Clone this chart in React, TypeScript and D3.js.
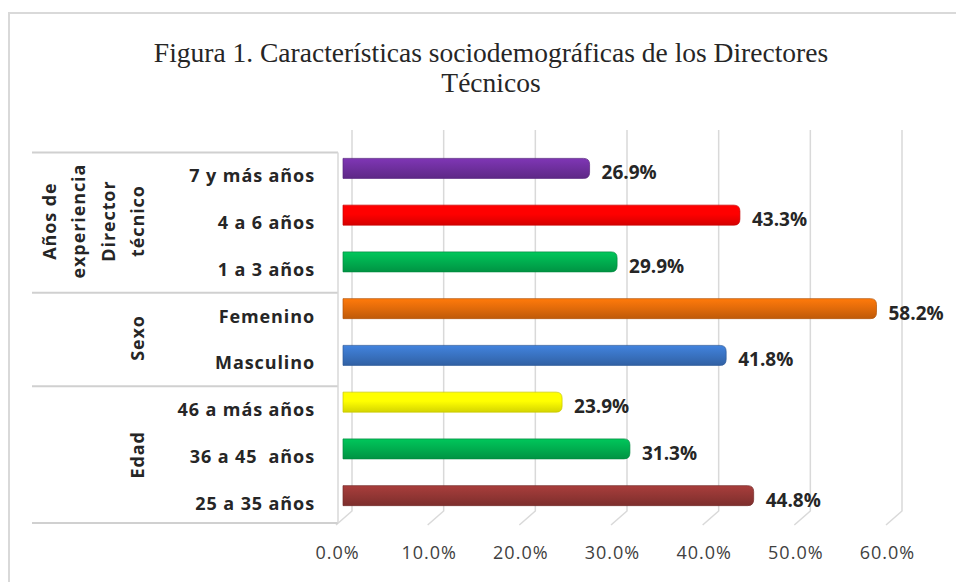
import React from "react";
import * as d3 from "d3";

const categories = [
  "7 y más años",
  "4 a 6 años",
  "1 a 3 años",
  "Femenino",
  "Masculino",
  "46 a más años",
  "36 a 45  años",
  "25 a 35 años",
];
const values = [26.9, 43.3, 29.9, 58.2, 41.8, 23.9, 31.3, 44.8];
const barColors = [
  "#7030A0",
  "#FF0000",
  "#00B050",
  "#E46C0A",
  "#3A74C4",
  "#FFFF00",
  "#00B050",
  "#953735",
];
const groups = [
  { lines: ["Años de", "experiencia", "Director", "técnico"], from: 0, to: 2 },
  { lines: ["Sexo"], from: 3, to: 4 },
  { lines: ["Edad"], from: 5, to: 7 },
];
const ticks = [0, 10, 20, 30, 40, 50, 60];
const titleLines = [
  "Figura 1. Características sociodemográficas de los Directores",
  "Técnicos",
];

const W = 956;
const H = 582;
const FONT = "'Open Sans', 'Liberation Sans', sans-serif";

export default function App() {
  const x = d3.scaleLinear().domain([0, 60]).range([343, 893]);
  const y = d3.scalePoint<string>().domain(categories).range([145, 519]).padding(0.5);
  const step = y.step();
  const barH = 20;
  const gridTop = 130;
  const gridBottom = 511;
  const depthOff = 7.5;

  const fmt = (v: number) => v.toFixed(1) + "%";

  const boundaries: number[] = [];
  groups.forEach((g, i) => {
    if (i === 0) boundaries.push((y(categories[g.from]) as number) - step / 2 + depthOff);
    boundaries.push(Math.min((y(categories[g.to]) as number) + step / 2 + depthOff, 523));
  });

  return (
    <svg width={W} height={H} style={{ position: "absolute", left: 0, top: 0 }}>
      <defs>
        {barColors.map((c, i) => {
          const base = d3.color(c)!;
          return (
            <linearGradient key={i} id={"g" + i} x1="0" y1="0" x2="0" y2="1">
              <stop offset="0%" stopColor={base.brighter(0.35).formatHex()} />
              <stop offset="45%" stopColor={c} />
              <stop offset="100%" stopColor={base.darker(0.5).formatHex()} />
            </linearGradient>
          );
        })}
      </defs>
      <rect x={0} y={0} width={W} height={H} fill="#fff" />
      {/* outer frame */}
      <path d={`M9,${H} L9,13 L${W},13`} fill="none" stroke="#D9D9D9" strokeWidth={2} />

      {/* title */}
      {titleLines.map((t, i) => (
        <text
          key={i}
          x={491}
          y={62 + i * 30}
          textAnchor="middle"
          fontFamily="'Liberation Serif', 'Times New Roman', serif"
          fontSize={27.5}
          fill="#262626"
        >
          {t}
        </text>
      ))}

      {/* gridlines with 3D floor foot */}
      {ticks.map((t) => (
        <path
          key={t}
          d={`M${x(t) + 9},${gridTop} L${x(t) + 9},${gridBottom} L${x(t) - 7},${gridBottom + 14}`}
          fill="none"
          stroke="#D9D9D9"
          strokeWidth={1.5}
        />
      ))}

      {/* category axis box */}
      {boundaries.map((b, i) => (
        <line key={i} x1={32} x2={338} y1={b} y2={b} stroke="#D0D0D0" strokeWidth={2} />
      ))}
      <line x1={338} x2={338} y1={boundaries[0]} y2={boundaries[boundaries.length - 1]} stroke="#D9D9D9" strokeWidth={1.5} />

      {/* bars */}
      {categories.map((c, i) => {
        const cy = y(c) as number;
        const x0 = x(0);
        const x1 = x(values[i]);
        const r = 6;
        const top = cy - barH / 2;
        const bot = cy + barH / 2;
        const d = `M${x0},${top} L${x1 - r},${top} Q${x1},${top} ${x1},${top + r} L${x1},${bot - r} Q${x1},${bot} ${x1 - r},${bot} L${x0},${bot} Z`;
        const stroke = d3.color(barColors[i])!.darker(0.7).formatHex();
        return (
          <path key={c} d={d} fill={`url(#g${i})`} stroke={stroke} strokeWidth={1} strokeOpacity={0.7} />
        );
      })}

      {/* value labels */}
      {categories.map((c, i) => (
        <text
          key={c}
          x={x(values[i]) + 12}
          y={(y(c) as number) + 4}
          dominantBaseline="central"
          fontFamily={FONT}
          fontWeight="bold"
          fontSize={19}
          fill="#262626"
        >
          {fmt(values[i])}
        </text>
      ))}

      {/* category labels */}
      {categories.map((c) => (
        <text
          key={c}
          x={315}
          y={(y(c) as number) + 7}
          textAnchor="end"
          dominantBaseline="central"
          fontFamily={FONT}
          fontWeight="bold"
          fontSize={18}
          letterSpacing={0.9}
          fill="#262626"
          style={{ whiteSpace: "pre" }}
        >
          {c}
        </text>
      ))}

      {/* group labels */}
      {groups.map((g, gi) => {
        const cy =
          ((y(categories[g.from]) as number) + (y(categories[g.to]) as number)) / 2 + 6;
        const n = g.lines.length;
        const lineGap = 29.5;
        const lastX = 137;
        return g.lines.map((l, li) => {
          const cx = lastX - (n - 1 - li) * lineGap;
          return (
            <text
              key={gi + "-" + li}
              transform={`translate(${cx},${cy}) rotate(-90)`}
              textAnchor="middle"
              dominantBaseline="central"
              fontFamily={FONT}
              fontWeight="bold"
              fontSize={18}
              letterSpacing={0.9}
              fill="#262626"
            >
              {l}
            </text>
          );
        });
      })}

      {/* tick labels */}
      {ticks.map((t) => (
        <text
          key={t}
          x={x(t) - 5.5}
          y={552}
          textAnchor="middle"
          dominantBaseline="central"
          fontFamily={FONT}
          fontSize={18}
          letterSpacing={1}
          fill="#404040"
        >
          {fmt(t)}
        </text>
      ))}
    </svg>
  );
}
